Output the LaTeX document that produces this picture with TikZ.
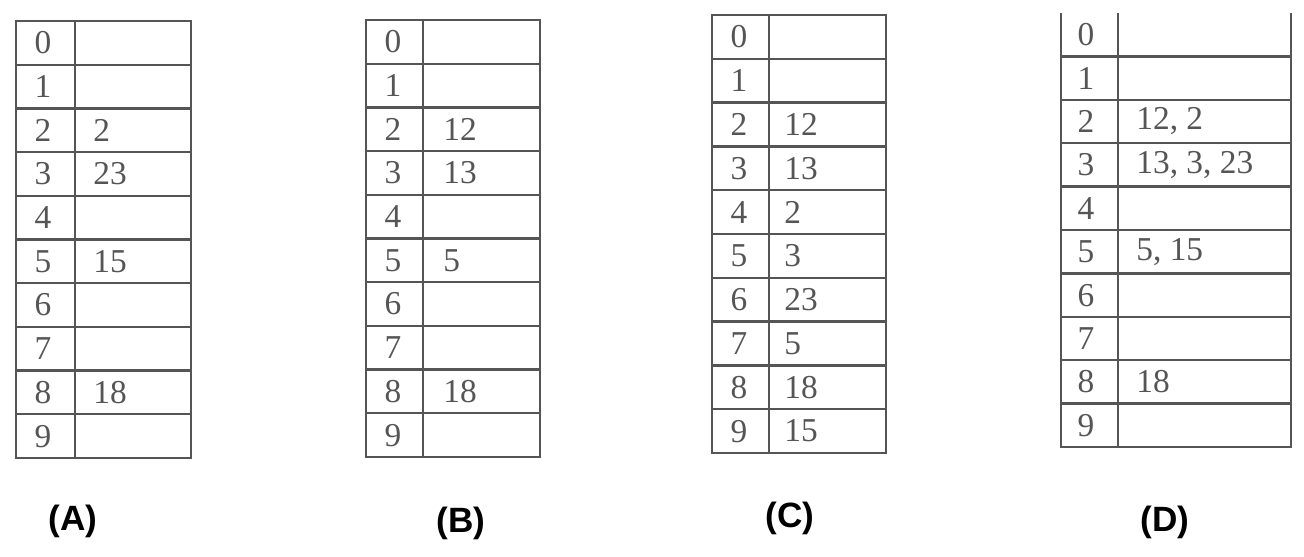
\documentclass[tikz,border=0pt]{standalone}
\usepackage{fontspec}
\setmainfont{Liberation Serif}
\newfontfamily\capfont{Liberation Sans}
\usepackage{tikz}

\definecolor{inkgray}{HTML}{555555}
\definecolor{textgray}{HTML}{555555}

\tikzset{
  grid line/.style={draw=inkgray, line width=1.3pt},
  idx/.style={text=textgray, inner sep=0pt, font=\fontsize{19}{22}\selectfont},
  val/.style={text=textgray, inner sep=0pt, anchor=west, font=\fontsize{19}{22}\selectfont},
  caption/.style={inner sep=0pt, font=\capfont\bfseries\fontsize{20}{24}\selectfont}
}

\begin{document}
\begin{tikzpicture}[x=0.02cm, y=-0.02cm]
        \useasboundingbox (0,0) rectangle (1304,556);
        % table A
        \begin{scope}[shift={(16,21)}]
                \draw[grid line] (0,0) rectangle (175,437);
                \draw[grid line] (59,0) -- (59,437);
                \foreach \r in {1,...,9}
                        \draw[grid line] (0,\r*43.7) -- (175,\r*43.7);
                \foreach \r in {0,...,9}
                        \node[idx] (A\r) at (27,\r*43.7+21.85) {\r};
                \foreach \r/\v in {2/2, 3/23, 5/15, 8/18}
                        \node[val] (Av\r) at (77,\r*43.7+21.85) {\v};
        \end{scope}
        % table B
        \begin{scope}[shift={(366,20)}]
                \draw[grid line] (0,0) rectangle (174,437);
                \draw[grid line] (57,0) -- (57,437);
                \foreach \r in {1,...,9}
                        \draw[grid line] (0,\r*43.7) -- (174,\r*43.7);
                \foreach \r in {0,...,9}
                        \node[idx] (B\r) at (27,\r*43.7+21.85) {\r};
                \foreach \r/\v in {2/12, 3/13, 5/5, 8/18}
                        \node[val] (Bv\r) at (77,\r*43.7+21.85) {\v};
        \end{scope}
        % table C
        \begin{scope}[shift={(712,15)}]
                \draw[grid line] (0,0) rectangle (174,438);
                \draw[grid line] (57,0) -- (57,438);
                \foreach \r in {1,...,9}
                        \draw[grid line] (0,\r*43.8) -- (174,\r*43.8);
                \foreach \r in {0,...,9}
                        \node[idx] (C\r) at (27,\r*43.8+21.9) {\r};
                \foreach \r/\v in {2/12, 3/13, 4/2, 5/3, 6/23, 7/5, 8/18, 9/15}
                        \node[val] (Cv\r) at (72,\r*43.8+21.9) {\v};
        \end{scope}
        % table D
        \begin{scope}[shift={(1061,13)}]
                \draw[grid line] (0,0) -- (0,434) -- (230,434) -- (230,0);
                \draw[grid line] (57,0) -- (57,434);
                \foreach \r in {1,...,9}
                        \draw[grid line] (0,\r*43.4) -- (230,\r*43.4);
                \foreach \r in {0,...,9}
                        \node[idx] (D\r) at (25,\r*43.4+21.7) {\r};
                \foreach \r/\v in {2/{12, 2}, 3/{13, 3, 23}, 5/{5, 15}, 8/18}
                        \node[val] (Dv\r) at (75,\r*43.4+21.7) {\v};
        \end{scope}
        % captions
        \node[caption] (capA) at (73,521) {(A)};
        \node[caption] (capB) at (461,523) {(B)};
        \node[caption] (capC) at (790,518) {(C)};
        \node[caption] (capD) at (1165,522) {(D)};
\end{tikzpicture}
\end{document}
